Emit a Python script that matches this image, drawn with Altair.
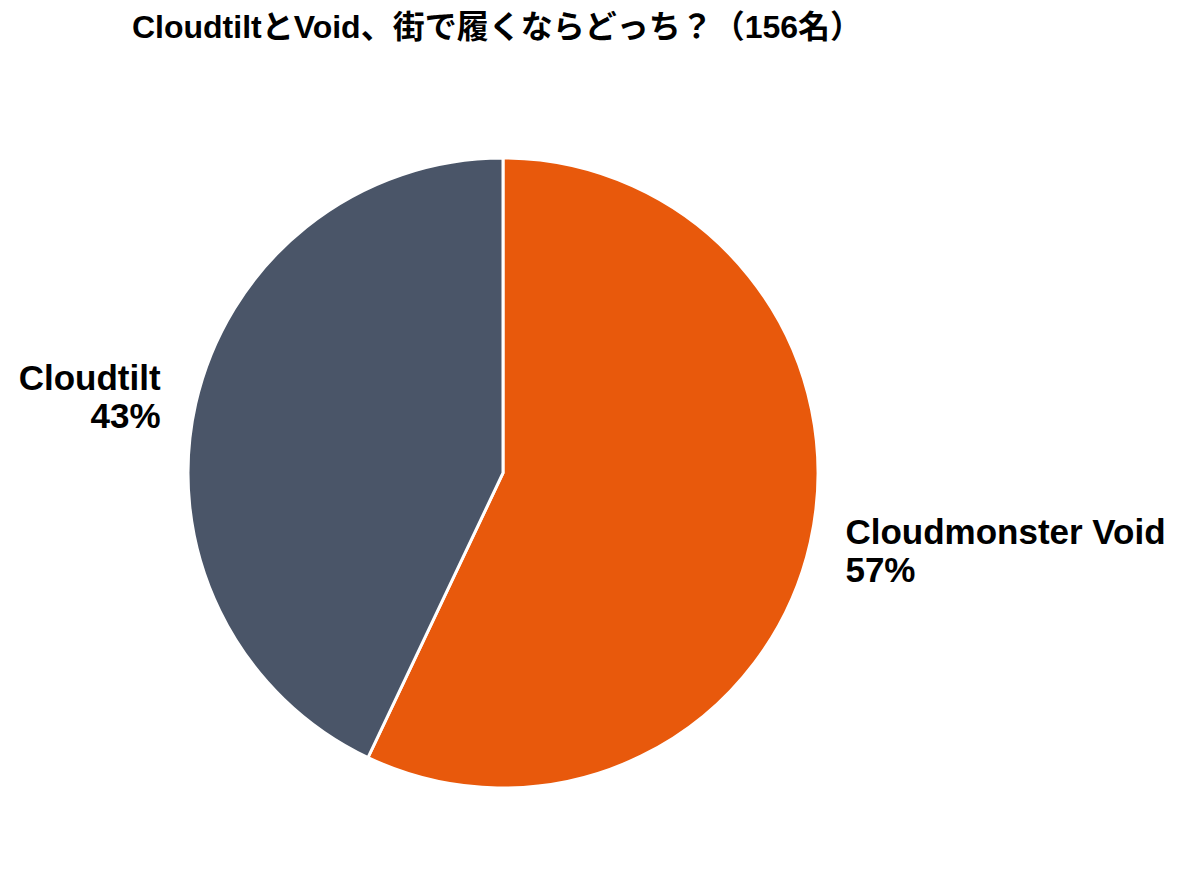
import altair as alt
import pandas as pd

labels = ["Cloudmonster Void", "Cloudtilt"]
counts = [89, 67]
pcts = ["57%", "43%"]
colors = ["#E8590C", "#4A5568"]
order = [0, 1]

df = pd.DataFrame({"label": labels, "count": counts, "pct": pcts, "order": order})
df["text"] = df["label"] + "\n" + df["pct"]

FONT = "Liberation Sans, Noto Sans CJK JP"

base = alt.Chart(df).encode(
    theta=alt.Theta("count:Q", stack=True),
    order=alt.Order("order:Q"),
)

arcs = base.mark_arc(radius=315, stroke="white", strokeWidth=3).encode(
    color=alt.Color("label:N", scale=alt.Scale(domain=labels, range=colors), legend=None)
)

texts = base.mark_text(
    radius=351,
    fontSize=35,
    fontWeight="bold",
    font=FONT,
    lineBreak="\n",
    lineHeight=38,
    baseline="middle",
    dy=-17,
    align=alt.ExprRef(expr="datum.label == 'Cloudtilt' ? 'right' : 'left'"),
    color="black",
).encode(text="text:N")

chart = (
    alt.layer(arcs, texts)
    .properties(
        width=730,
        height=730,
        padding={"left": 130, "top": 100, "right": 319, "bottom": 0},
        autosize=alt.AutoSizeParams(type="none"),
        title=alt.TitleParams(
            "CloudtiltとVoid、街で履くならどっち？（156名）",
            font=FONT,
            fontSize=32,
            fontWeight="bold",
            color="black",
            anchor="middle",
            dx=-6,
            offset=63,
        ),
    )
    .configure_view(stroke=None)
)

chart.save("out.html", embed_options={"renderer": "svg", "actions": False})
